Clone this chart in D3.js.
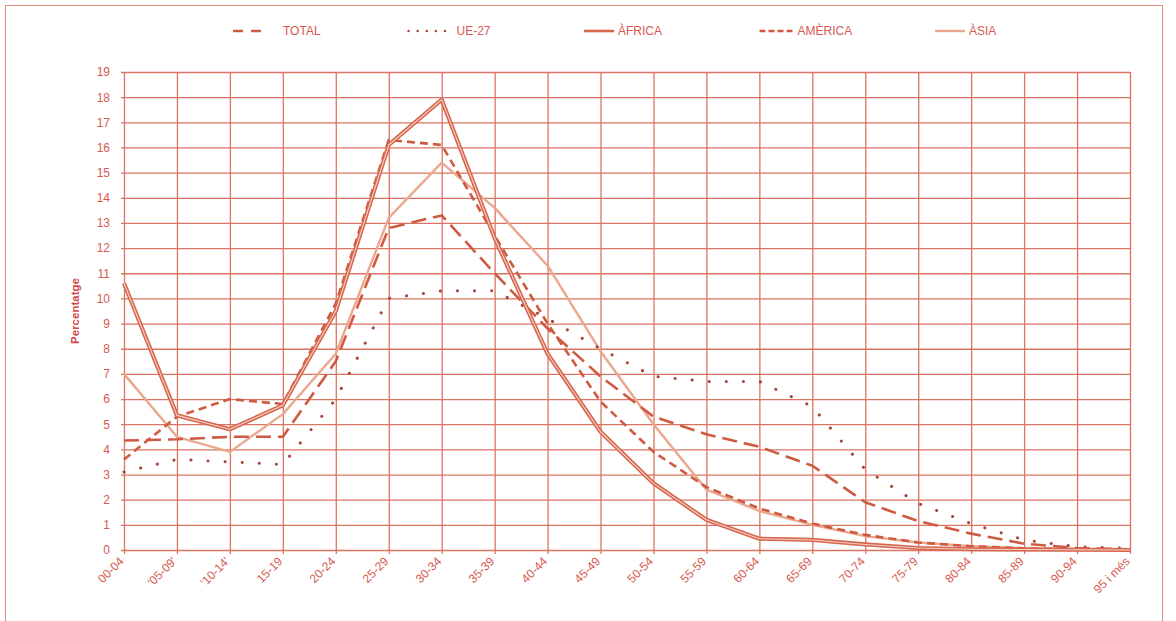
<!DOCTYPE html>
<html>
<head>
<meta charset="utf-8">
<script src="https://cdn.jsdelivr.net/npm/d3@7"></script>
<style>
  body { margin: 0; background: #fff; }
  svg { display: block; font-family: "Liberation Sans", Arial, sans-serif; }
</style>
</head>
<body>
<div id="chart"></div>
<script>
var categories = ["00-04", "'05-09'", "'10-14'", "15-19", "20-24", "25-29", "30-34", "35-39", "40-44", "45-49",
  "50-54", "55-59", "60-64", "65-69", "70-74", "75-79", "80-84", "85-89", "90-94", "95 i més"];

var seriesNames = ["TOTAL", "UE-27", "ÀFRICA", "AMÈRICA", "ÀSIA"];

var total   = [4.35, 4.4, 4.5, 4.5, 7.5, 12.8, 13.3, 11.0, 8.8, 6.9, 5.3, 4.6, 4.1, 3.35, 1.9, 1.15, 0.65, 0.25, 0.08, 0.03];
var ue27    = [3.1, 3.6, 3.5, 3.4, 6.0, 10.0, 10.3, 10.3, 9.2, 8.0, 6.9, 6.7, 6.7, 5.7, 3.2, 1.85, 1.05, 0.4, 0.13, 0.07];
var africa  = [10.6, 5.35, 4.8, 5.75, 9.5, 16.1, 17.9, 12.4, 7.8, 4.7, 2.65, 1.2, 0.45, 0.4, 0.22, 0.08, 0.03, 0.02, 0.01, 0.0];
var america = [3.6, 5.3, 6.0, 5.8, 9.8, 16.3, 16.1, 12.5, 9.0, 5.9, 3.9, 2.5, 1.65, 1.05, 0.6, 0.3, 0.15, 0.07, 0.03, 0.01];
var asia    = [7.0, 4.5, 3.9, 5.4, 7.8, 13.2, 15.4, 13.6, 11.3, 7.9, 5.0, 2.4, 1.55, 1.0, 0.55, 0.3, 0.15, 0.07, 0.03, 0.01];

var yTicks = d3.range(0, 20);

var svgWidth = 1176, svgHeight = 621;
var margin = { top: 72, right: 46, bottom: 71, left: 124 };
var width = svgWidth - margin.left - margin.right;
var height = svgHeight - margin.top - margin.bottom;

var gridColor = "#da7462";
var textColor = "#d65a50";

var svg = d3.select("#chart").append("svg")
  .attr("width", svgWidth)
  .attr("height", svgHeight);

// outer frame
svg.append("rect")
  .attr("x", 5.5).attr("y", 5.5)
  .attr("width", 1157).attr("height", 700)
  .attr("fill", "none")
  .attr("stroke", "#e08a7a")
  .attr("stroke-width", 1);

var chart = svg.append("g")
  .attr("transform", `translate(${margin.left}, ${margin.top})`);

var x = d3.scalePoint().domain(categories).range([0, width]);
var y = d3.scaleLinear().domain([0, 19]).range([height, 0]);

// horizontal grid + y labels
var yAxis = chart.append("g")
  .attr("transform", "translate(-3,0)")
  .call(d3.axisLeft(y).tickValues(yTicks).tickSizeInner(-(width + 3)).tickSizeOuter(0).tickPadding(11).tickFormat(d3.format("d")));
yAxis.select(".domain").remove();
yAxis.selectAll("line").attr("stroke", gridColor).attr("stroke-width", 1.3);
yAxis.selectAll("text").attr("fill", textColor).attr("font-size", 12);

// vertical grid + x labels
var xAxis = chart.append("g")
  .attr("transform", `translate(0, ${height + 4})`)
  .call(d3.axisBottom(x).tickSizeInner(-(height + 4)).tickSizeOuter(0).tickPadding(0));
xAxis.select(".domain").remove();
xAxis.selectAll("line").attr("stroke", gridColor).attr("stroke-width", 1.3);
xAxis.selectAll("text")
  .attr("fill", textColor)
  .attr("font-size", 12)
  .attr("text-anchor", "end")
  .attr("dy", null)
  .attr("y", 0)
  .attr("transform", "translate(0,8) rotate(-45)");

// y title
chart.append("text")
  .attr("transform", `translate(${-45}, ${height / 2}) rotate(-90)`)
  .attr("text-anchor", "middle")
  .attr("font-size", 11.5)
  .attr("font-weight", "bold")
  .attr("fill", "#d4484a")
  .text("Percentatge");

var line = d3.line()
  .x((d, i) => x(categories[i]))
  .y(d => y(d));

var styles = [
  { data: total,   stroke: "#cf5a42", width: 2.6, dash: "15,7", cap: "butt" },
  { data: ue27,    stroke: "#a8443a", width: 3,   dash: "0.1,17", cap: "round" },
  { data: africa,  stroke: "#d6664e", width: 4.2, dash: null, cap: "butt", inner: "#f7d2c4" },
  { data: america, stroke: "#cf5a42", width: 2.6, dash: "8,5", cap: "butt" },
  { data: asia,    stroke: "#eba88e", width: 2.4, dash: null, cap: "butt" }
];

// draw order: asia under others
[4, 1, 0, 3, 2].forEach(function(k) {
  var s = styles[k];
  chart.append("path")
    .datum(s.data)
    .attr("d", line)
    .attr("fill", "none")
    .attr("stroke", s.stroke)
    .attr("stroke-width", s.width)
    .attr("stroke-linecap", s.cap)
    .attr("stroke-linejoin", "round")
    .attr("stroke-dasharray", s.dash);
  if (s.inner) {
    chart.append("path")
      .datum(s.data)
      .attr("d", line)
      .attr("fill", "none")
      .attr("stroke", s.inner)
      .attr("stroke-width", 1.1)
      .attr("stroke-linejoin", "round");
  }
});

// legend
var legendX = d3.scalePoint().domain(seriesNames).range([233, 935]);
var legend = svg.append("g");
seriesNames.forEach(function(name, k) {
  var s = styles[k];
  var lx = legendX(name);
  var ly = 31;
  var len = k === 1 ? 44 : (k === 3 ? 34 : 30);
  legend.append("line")
    .attr("x1", lx).attr("x2", lx + len)
    .attr("y1", ly).attr("y2", ly)
    .attr("stroke", s.stroke)
    .attr("stroke-width", k === 1 ? 2.4 : (k === 2 ? 2.6 : 2.4))
    .attr("stroke-linecap", s.cap)
    .attr("stroke-dasharray", k === 0 ? "10,8" : (k === 1 ? "0.1,9" : (k === 3 ? "6,3" : null)));
  legend.append("text")
    .attr("x", lx + len + (k === 0 ? 20 : 4))
    .attr("y", ly + 4)
    .attr("font-size", 12)
    .attr("fill", textColor)
    .text(name);
});
</script>
</body>
</html>
